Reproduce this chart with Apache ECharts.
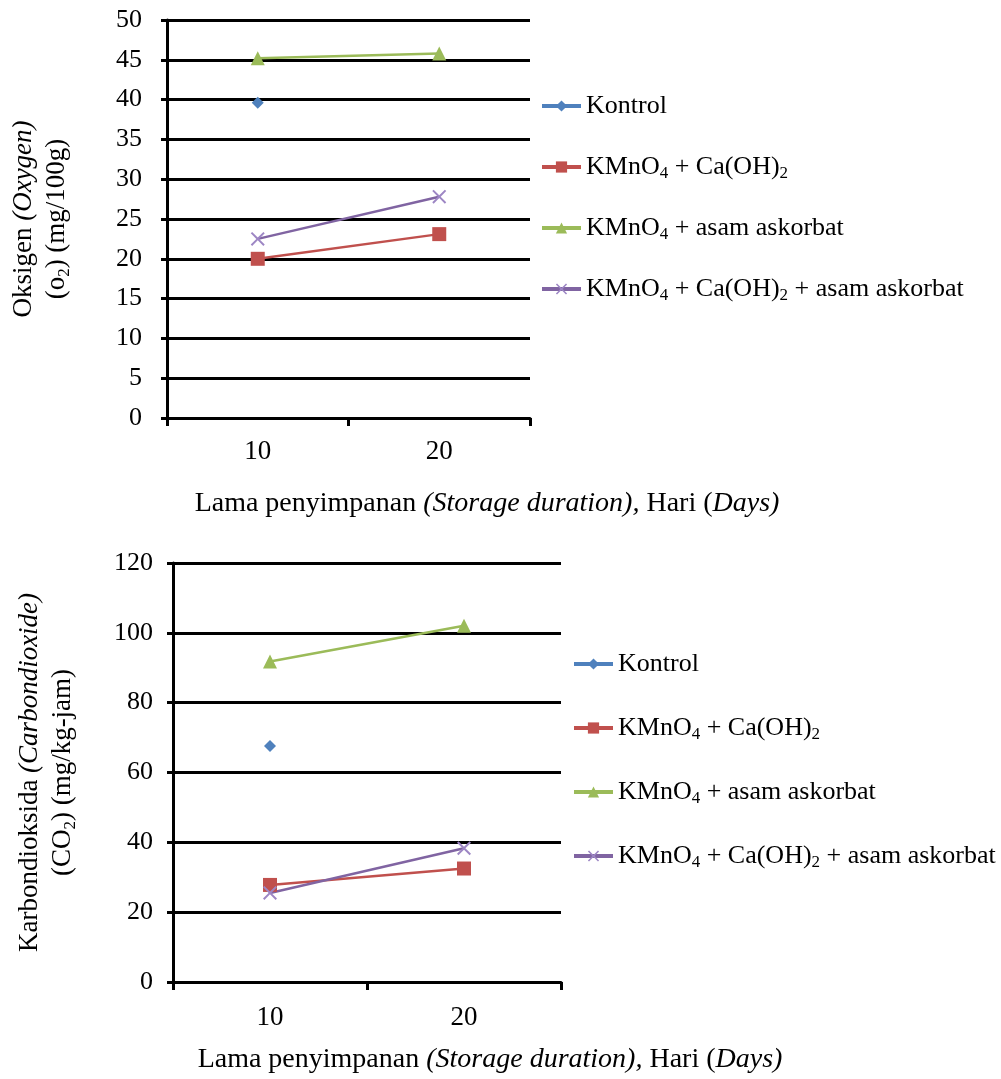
<!DOCTYPE html>
<html>
<head>
<meta charset="utf-8">
<script src="https://cdn.jsdelivr.net/npm/echarts@6/dist/echarts.min.js"></script>
<style>
html,body{margin:0;padding:0;background:#fff;}
#chart{width:1001px;height:1079px;}
</style>
</head>
<body>
<div id="chart"></div>
<script>
// ---- Data ----
const categories = ['10', '20'];
const seriesNames = ['Kontrol', 'KMnO4 + Ca(OH)2', 'KMnO4 + asam askorbat', 'KMnO4 + Ca(OH)2 + asam askorbat'];
// Oxygen (mg/100g)
const o2Kontrol = [39.6, '-'];
const o2KmnCa = [20.0, 23.1];
const o2KmnAsk = [45.2, 45.8];
const o2KmnCaAsk = [22.5, 27.8];
// Carbon dioxide (mg/kg-jam)
const co2Kontrol = [67.6, '-'];
const co2KmnCa = [27.8, 32.5];
const co2KmnAsk = [91.8, 102.0];
const co2KmnCaAsk = [25.5, 38.3];
// Ticks
const o2Axis = {min: 0, max: 50, interval: 5};
const co2Axis = {min: 0, max: 120, interval: 20};

const FONT = 'Liberation Serif';
const colors = ['#4F81BD', '#C0504D', '#9BBB59', '#8064A2'];
const xPath = 'path://M0,1 L1,0 L5,4 L9,0 L10,1 L6,5 L10,9 L9,10 L5,6 L1,10 L0,9 L4,5 Z';
const symbols = ['diamond', 'rect', 'triangle', xPath];
const symbolSizes = [12, 14, 14, 14];

const legendRich = {
  n: {fontFamily: FONT, fontSize: 26, color: '#000', lineHeight: 30},
  s: {fontFamily: FONT, fontSize: 17, color: '#000', verticalAlign: 'bottom', lineHeight: 3}
};
function legendFmt(name) {
  const parts = name.split(/(KMnO4|Ca\(OH\)2)/).filter(p => p.length);
  return parts.map(p => {
    if (p === 'KMnO4') return '{n|KMnO}{s|4}';
    if (p === 'Ca(OH)2') return '{n|Ca(OH)}{s|2}';
    return '{n|' + p + '}';
  }).join('');
}

function mkSeries(data, idx, gi) {
  return {
    name: seriesNames[idx], type: 'line', xAxisIndex: gi, yAxisIndex: gi,
    data: data, symbol: symbols[idx], symbolSize: symbolSizes[idx],
    color: colors[idx],
    lineStyle: {width: 2.5, color: colors[idx]},
    itemStyle: {color: idx === 3 ? '#9d86c4' : colors[idx]},
    connectNulls: false
  };
}

const axisLine = {show: true, lineStyle: {color: '#000', width: 3}};
function xAxisCfg(gi, margin) {
  return {
    type: 'category', gridIndex: gi, data: categories, boundaryGap: true,
    axisLine: axisLine,
    axisTick: {show: true, alignWithLabel: false, length: 8, lineStyle: {color: '#000', width: 3}},
    axisLabel: {fontFamily: FONT, fontSize: 27, color: '#000', margin: margin},
    splitLine: {show: false}
  };
}
function yAxisCfg(gi, ax, name, margin, gap) {
  return {
    type: 'value', gridIndex: gi, min: ax.min, max: ax.max, interval: ax.interval,
    axisLine: axisLine,
    axisTick: {show: true, length: 6, lineStyle: {color: '#000', width: 3}},
    axisLabel: {fontFamily: FONT, fontSize: 26, color: '#000', margin: margin},
    splitLine: {show: true, lineStyle: {color: '#000', width: 3}},
    name: name, nameLocation: 'middle', nameRotate: 90, nameGap: gap,
    nameTextStyle: {fontFamily: FONT, fontSize: 27, color: '#000', lineHeight: 33,
      rich: {
        n: {fontFamily: FONT, fontSize: 27, color: '#000', lineHeight: 33},
        i: {fontFamily: FONT, fontSize: 27, color: '#000', fontStyle: 'italic', lineHeight: 33},
        s: {fontFamily: FONT, fontSize: 17, color: '#000', verticalAlign: 'bottom', lineHeight: 10}
      }}
  };
}

const titleRich = {
  n: {fontFamily: FONT, fontSize: 28, color: '#000', fontWeight: 'normal'},
  i: {fontFamily: FONT, fontSize: 28, color: '#000', fontStyle: 'italic', fontWeight: 'normal'}
};
const xTitle = '{n|Lama penyimpanan }{i|(Storage duration),}{n| Hari (}{i|Days)}';

const legendCommon = {
  orient: 'vertical', itemWidth: 39, itemHeight: 14,
  formatter: legendFmt, data: seriesNames,
  lineStyle: {width: 4},
  textStyle: {fontFamily: FONT, fontSize: 26, color: '#000', lineHeight: 30, rich: legendRich},
  selectedMode: false
};

const option = {
  animation: false,
  backgroundColor: '#fff',
  title: [
    {text: xTitle, left: 482, top: 485, textAlign: 'center', textStyle: {fontWeight: 'normal', rich: titleRich}},
    {text: xTitle, left: 485, top: 1041, textAlign: 'center', textStyle: {fontWeight: 'normal', rich: titleRich}}
  ],
  legend: [
    Object.assign({}, legendCommon, {left: 535, top: 86, itemGap: 31}),
    Object.assign({}, legendCommon, {left: 567, top: 644, itemGap: 34})
  ],
  grid: [
    {left: 167, top: 20, width: 363, height: 398, outerBoundsMode: 'none', containLabel: false},
    {left: 173, top: 563, width: 388, height: 419, outerBoundsMode: 'none', containLabel: false}
  ],
  xAxis: [xAxisCfg(0, 20), xAxisCfg(1, 22)],
  yAxis: [
    yAxisCfg(0, o2Axis, '{n|Oksigen }{i|(Oxygen)}\n{n|(o}{s|2}{n|) (mg/100g)}', 25, 94),
    yAxisCfg(1, co2Axis, '{n|Karbondioksida }{i|(Carbondioxide)}\n{n|(CO}{s|2}{n|) (mg/kg-jam)}', 20, 94)
  ],
  series: [
    mkSeries(o2Kontrol, 0, 0), mkSeries(o2KmnCa, 1, 0), mkSeries(o2KmnAsk, 2, 0), mkSeries(o2KmnCaAsk, 3, 0),
    mkSeries(co2Kontrol, 0, 1), mkSeries(co2KmnCa, 1, 1), mkSeries(co2KmnAsk, 2, 1), mkSeries(co2KmnCaAsk, 3, 1)
  ]
};

const chart = echarts.init(document.getElementById('chart'), null, {renderer: 'canvas'});
chart.setOption(option);
</script>
</body>
</html>
